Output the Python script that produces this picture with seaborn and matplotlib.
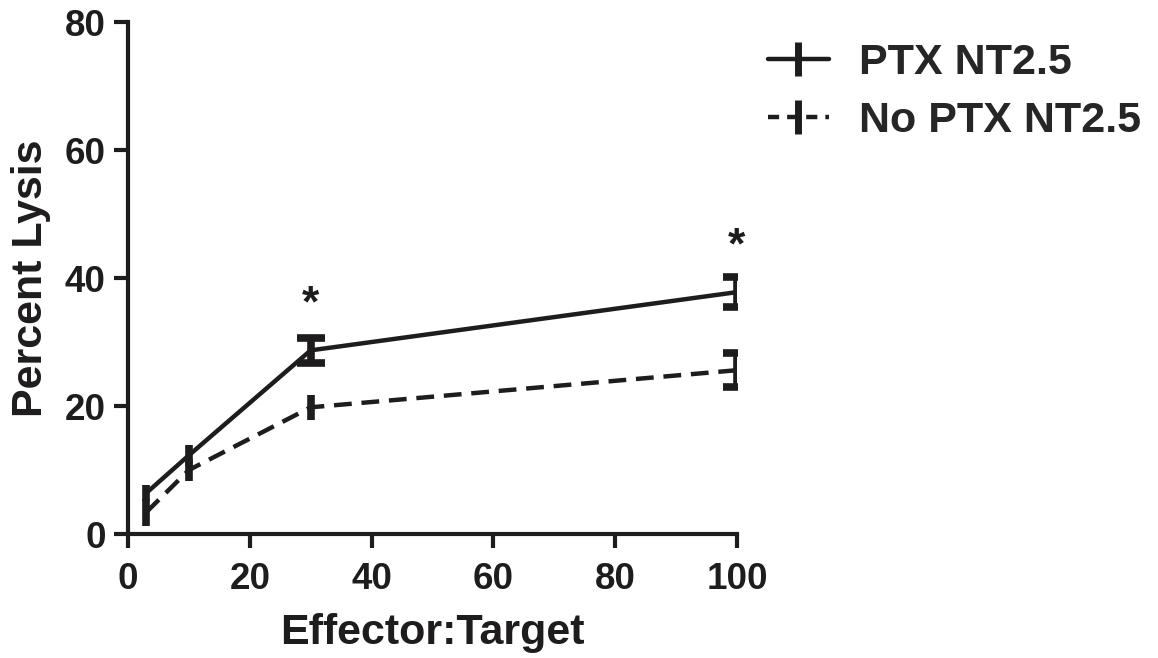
import numpy as np
import pandas as pd
import matplotlib
matplotlib.use("Agg")
import matplotlib.pyplot as plt
import seaborn as sns
from matplotlib.lines import Line2D

# ---- data ----
ratios = [3, 10, 30, 100]
ptx_mean = [6.4, 12.3, 28.7, 37.8]
ptx_err = [1.3, 1.6, 2.0, 2.3]
noptx_mean = [3.4, 10.0, 19.8, 25.6]
noptx_err = [2.1, 1.7, 2.0, 2.7]
series_names = ["PTX NT2.5", "No PTX NT2.5"]
star_x = [30, 100]
star_y = [35.8, 44.9]
x_ticks = [0, 20, 40, 60, 80, 100]
y_ticks = [0, 20, 40, 60, 80]

sns.set_style("ticks")
plt.rcParams['font.family'] = ['Liberation Sans', 'DejaVu Sans']
plt.rcParams['font.weight'] = 'bold'

INK = "#1e1c1d"

df = pd.DataFrame({
    "ratio": ratios * 2,
    "lysis": ptx_mean + noptx_mean,
    "series": [series_names[0]] * 4 + [series_names[1]] * 4,
})

fig = plt.figure(figsize=(11.58, 6.58), dpi=100)
ax = fig.add_axes([0.1105, 0.1884, 0.5259, 0.7781])

sns.lineplot(data=df, x="ratio", y="lysis", hue="series", style="series",
             palette=[INK, INK],
             dashes={series_names[0]: "", series_names[1]: (4, 2.2)},
             linewidth=3.2, ax=ax, legend=False, estimator=None)

# error bars; caps only where the reference shows them
caps_ptx = [0, 0, 10, 10]
caps_noptx = [0, 0, 0, 10]
for xs, m, e, caps in [(ratios, ptx_mean, ptx_err, caps_ptx),
                       (ratios, noptx_mean, noptx_err, caps_noptx)]:
    for xi, mi, ei, ci in zip(xs, m, e, caps):
        ax.errorbar([xi], [mi], yerr=[ei], fmt='none', ecolor=INK,
                    elinewidth=5.5, capsize=ci, capthick=5.5)

for sx, sy in zip(star_x, star_y):
    ax.text(sx, sy, "*", ha='center', va='center', fontsize=32,
            fontweight='bold', color=INK)

ax.set_xlim(0, 100)
ax.set_ylim(0, 80)
ax.set_xticks(x_ticks)
ax.set_yticks(y_ticks)
ax.tick_params(axis='both', direction='out', length=10, width=3,
               labelsize=26.5, color=INK, labelcolor=INK)
ax.tick_params(axis='x', pad=10)
ax.tick_params(axis='y', pad=6)
for lab in ax.get_xticklabels() + ax.get_yticklabels():
    lab.set_fontweight('bold')
for s in ['top', 'right']:
    ax.spines[s].set_visible(False)
for s in ['left', 'bottom']:
    ax.spines[s].set_linewidth(3)
    ax.spines[s].set_color(INK)
ax.set_xlabel("Effector:Target", fontsize=31, fontweight='bold', color=INK, labelpad=12)
ax.set_ylabel("Percent Lysis", fontsize=31, fontweight='bold', color=INK, labelpad=10)

handles = [
    Line2D([], [], color=INK, lw=3.2, marker='|', ms=24, mew=5),
    Line2D([], [], color=INK, lw=3.2, ls=(0, (2.5, 1.8)), marker='|', ms=24, mew=5),
]
fig.legend(handles, series_names, loc='upper left', bbox_to_anchor=(0.630, 0.993),
           frameon=False, prop={'weight': 'bold', 'size': 31},
           handlelength=1.4, handletextpad=0.7, labelspacing=0.4)

fig.savefig("out.png", dpi=100)
